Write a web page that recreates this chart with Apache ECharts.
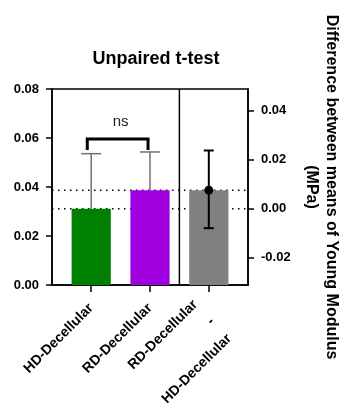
<!DOCTYPE html>
<html><head><meta charset="utf-8">
<script src="https://cdn.jsdelivr.net/npm/echarts@6/dist/echarts.min.js"></script>
<style>html,body{margin:0;padding:0;background:#fff}#c{width:339px;height:408px}</style>
</head><body><div id="c"></div>
<script>
// ---- data ----
const categories = ['HD-Decellular', 'RD-Decellular', 'RD-Decellular\n-\nHD-Decellular'];
const groupMeans = [0.0311, 0.0387];
const groupSD = [0.0225, 0.0156];
const meanDiff = 0.0076;
const diffCI = [-0.0079, 0.0238];
const leftAxisRange = [0, 0.08];
const leftTickStep = 0.02;
const rightTickValues = [-0.02, 0, 0.02, 0.04];
const significance = 'ns';
const chartTitle = 'Unpaired t-test';
const rightAxisTitle = 'Difference between means of Young Modulus\n(MPa)';

// ---- layout (not data) ----
const slot = [2, 5, 8];
const labelSlots = slot.concat([10]); // trailing empty label keeps ECharts from hiding a real one
const dividerX = 6.5;
const barColors = ['#008000', '#a000e0', '#808080'];
const FONT = '"Liberation Sans", Arial, sans-serif';

const rightMin = leftAxisRange[0] - groupMeans[0];
const rightMax = leftAxisRange[1] - groupMeans[0];

const chart = echarts.init(document.getElementById('c'), null, {renderer: 'canvas'});

function labelFor(v) {
  const i = slot.indexOf(v);
  if (i < 0) return '';
  const t = categories[i];
  if (t.indexOf('\n') >= 0) {
    return '{s| }\n' + t.split('\n').map(s => '{m|' + s + '}').join('\n');
  }
  return t;
}

const option = {
  animation: false,
  backgroundColor: '#fff',
  title: {
    text: chartTitle, left: 151, top: 45, textAlign: 'center',
    textStyle: {fontFamily: FONT, fontWeight: 'bold', fontSize: 18, color: '#000'}
  },
  graphic: [{
    type: 'text', x: 321, y: 187, rotation: -Math.PI / 2,
    style: {text: rightAxisTitle, font: 'bold 16px ' + FONT, fill: '#000',
      align: 'center', verticalAlign: 'middle', lineHeight: 20}
  }],
  grid: {left: 52, right: 91, top: 89, bottom: 123, show: true, borderColor: '#000', borderWidth: 1.5,
    backgroundColor: 'transparent', outerBoundsMode: 'none'},
  xAxis: {
    type: 'value', min: 0, max: 10,
    splitLine: {show: false},
    axisLine: {show: true, lineStyle: {color: '#000', width: 1.5}},
    axisTick: {show: true, customValues: slot, length: 7, lineStyle: {color: '#000', width: 1.5}},
    axisLabel: {
      customValues: labelSlots, rotate: 45, margin: 21, formatter: labelFor, hideOverlap: false,
      fontFamily: FONT, fontWeight: 'bold', fontSize: 14, color: '#000',
      rich: {
        s: {fontFamily: FONT, fontWeight: 'bold', fontSize: 14, lineHeight: 24},
        m: {fontFamily: FONT, fontWeight: 'bold', fontSize: 14, color: '#000', lineHeight: 24, padding: [0, 7, 0, 0]}
      }
    }
  },
  yAxis: [{
    type: 'value', position: 'left', min: leftAxisRange[0], max: leftAxisRange[1], interval: leftTickStep,
    splitLine: {show: false},
    axisLine: {show: true, lineStyle: {color: '#000', width: 1.5}},
    axisTick: {show: true, length: 6, lineStyle: {color: '#000', width: 1.5}},
    axisLabel: {margin: 13, formatter: v => v.toFixed(2), fontFamily: FONT, fontWeight: 'bold', fontSize: 13, color: '#000'}
  }, {
    type: 'value', position: 'right', min: rightMin, max: rightMax,
    splitLine: {show: false},
    axisLine: {show: true, lineStyle: {color: '#000', width: 1.5}},
    axisTick: {show: true, customValues: rightTickValues, length: 6, lineStyle: {color: '#000', width: 1.5}},
    axisLabel: {customValues: rightTickValues, margin: 13, formatter: v => v.toFixed(2),
      fontFamily: FONT, fontWeight: 'bold', fontSize: 13, color: '#000'}
  }],
  series: [
    { // dotted reference lines (right axis: 0 and mean difference)
      type: 'custom', yAxisIndex: 1, z: 1,
      data: [[0], [meanDiff]],
      renderItem(params, api) {
        const a = api.coord([0, api.value(0)]), b = api.coord([10, api.value(0)]);
        return {type: 'line', shape: {x1: a[0], y1: a[1], x2: b[0], y2: b[1]},
          style: {stroke: '#000', lineWidth: 1.5, lineDash: [1.5, 4.5]}};
      }
    },
    { // group bars
      type: 'custom', yAxisIndex: 0, z: 2,
      data: groupMeans.map((m, i) => [slot[i], m, i]),
      renderItem(params, api) {
        const x = api.value(0), y = api.value(1);
        const p0 = api.coord([x - 1, 0]), p1 = api.coord([x + 1, y]);
        return {type: 'rect', shape: {x: p0[0], y: p1[1], width: p1[0] - p0[0], height: p0[1] - p1[1]},
          style: {fill: barColors[api.value(2)]}};
      }
    },
    { // difference bar
      type: 'custom', yAxisIndex: 1, z: 2,
      data: [[slot[2], meanDiff]],
      renderItem(params, api) {
        const x = api.value(0), y = api.value(1);
        const p0 = api.coord([x - 1, rightMin]), p1 = api.coord([x + 1, y]);
        return {type: 'rect', shape: {x: p0[0], y: p1[1], width: p1[0] - p0[0], height: p0[1] - p1[1]},
          style: {fill: barColors[2]}};
      }
    },
    { // SD error bars (upper)
      type: 'custom', yAxisIndex: 0, z: 3,
      data: groupMeans.map((m, i) => [slot[i], m, m + groupSD[i]]),
      renderItem(params, api) {
        const x = api.value(0);
        const a = api.coord([x, api.value(1)]), b = api.coord([x, api.value(2)]);
        const st = {stroke: '#707070', lineWidth: 1.5};
        return {type: 'group', children: [
          {type: 'line', shape: {x1: a[0], y1: a[1], x2: b[0], y2: b[1]}, style: st},
          {type: 'line', shape: {x1: b[0] - 10, y1: b[1], x2: b[0] + 10, y2: b[1]}, style: st}
        ]};
      }
    },
    { // mean difference with CI
      type: 'custom', yAxisIndex: 1, z: 4,
      data: [[slot[2], meanDiff, diffCI[0], diffCI[1]]],
      renderItem(params, api) {
        const x = api.value(0);
        const c = api.coord([x, api.value(1)]);
        const lo = api.coord([x, api.value(2)]), hi = api.coord([x, api.value(3)]);
        const st = {stroke: '#000', lineWidth: 2};
        return {type: 'group', children: [
          {type: 'line', shape: {x1: lo[0], y1: lo[1], x2: hi[0], y2: hi[1]}, style: st},
          {type: 'line', shape: {x1: lo[0] - 5, y1: lo[1], x2: lo[0] + 5, y2: lo[1]}, style: st},
          {type: 'line', shape: {x1: hi[0] - 5, y1: hi[1], x2: hi[0] + 5, y2: hi[1]}, style: st},
          {type: 'circle', shape: {cx: c[0], cy: c[1], r: 4.5}, style: {fill: '#000'}}
        ]};
      }
    },
    { // divider
      type: 'custom', yAxisIndex: 0, z: 5,
      data: [[dividerX]],
      renderItem(params, api) {
        const a = api.coord([api.value(0), leftAxisRange[0]]), b = api.coord([api.value(0), leftAxisRange[1]]);
        return {type: 'line', shape: {x1: a[0], y1: a[1], x2: b[0], y2: b[1]}, style: {stroke: '#000', lineWidth: 1.5}};
      }
    },
    { // significance bracket
      type: 'custom', yAxisIndex: 0, z: 5,
      data: [[1.8, 4.9, 0.0551, 0.0596, 3.5, 0.0667]],
      renderItem(params, api) {
        const p1 = api.coord([api.value(0), api.value(2)]);
        const p2 = api.coord([api.value(0), api.value(3)]);
        const p3 = api.coord([api.value(1), api.value(3)]);
        const p4 = api.coord([api.value(1), api.value(2)]);
        const t = api.coord([api.value(4), api.value(5)]);
        return {type: 'group', children: [
          {type: 'polyline', shape: {points: [p1, p2, p3, p4]}, style: {stroke: '#000', lineWidth: 3, fill: null}},
          {type: 'text', x: t[0], y: t[1], style: {text: significance, font: '15px ' + FONT, fill: '#222',
            align: 'center', verticalAlign: 'middle'}}
        ]};
      }
    }
  ]
};
chart.setOption(option);
</script>
</body></html>
